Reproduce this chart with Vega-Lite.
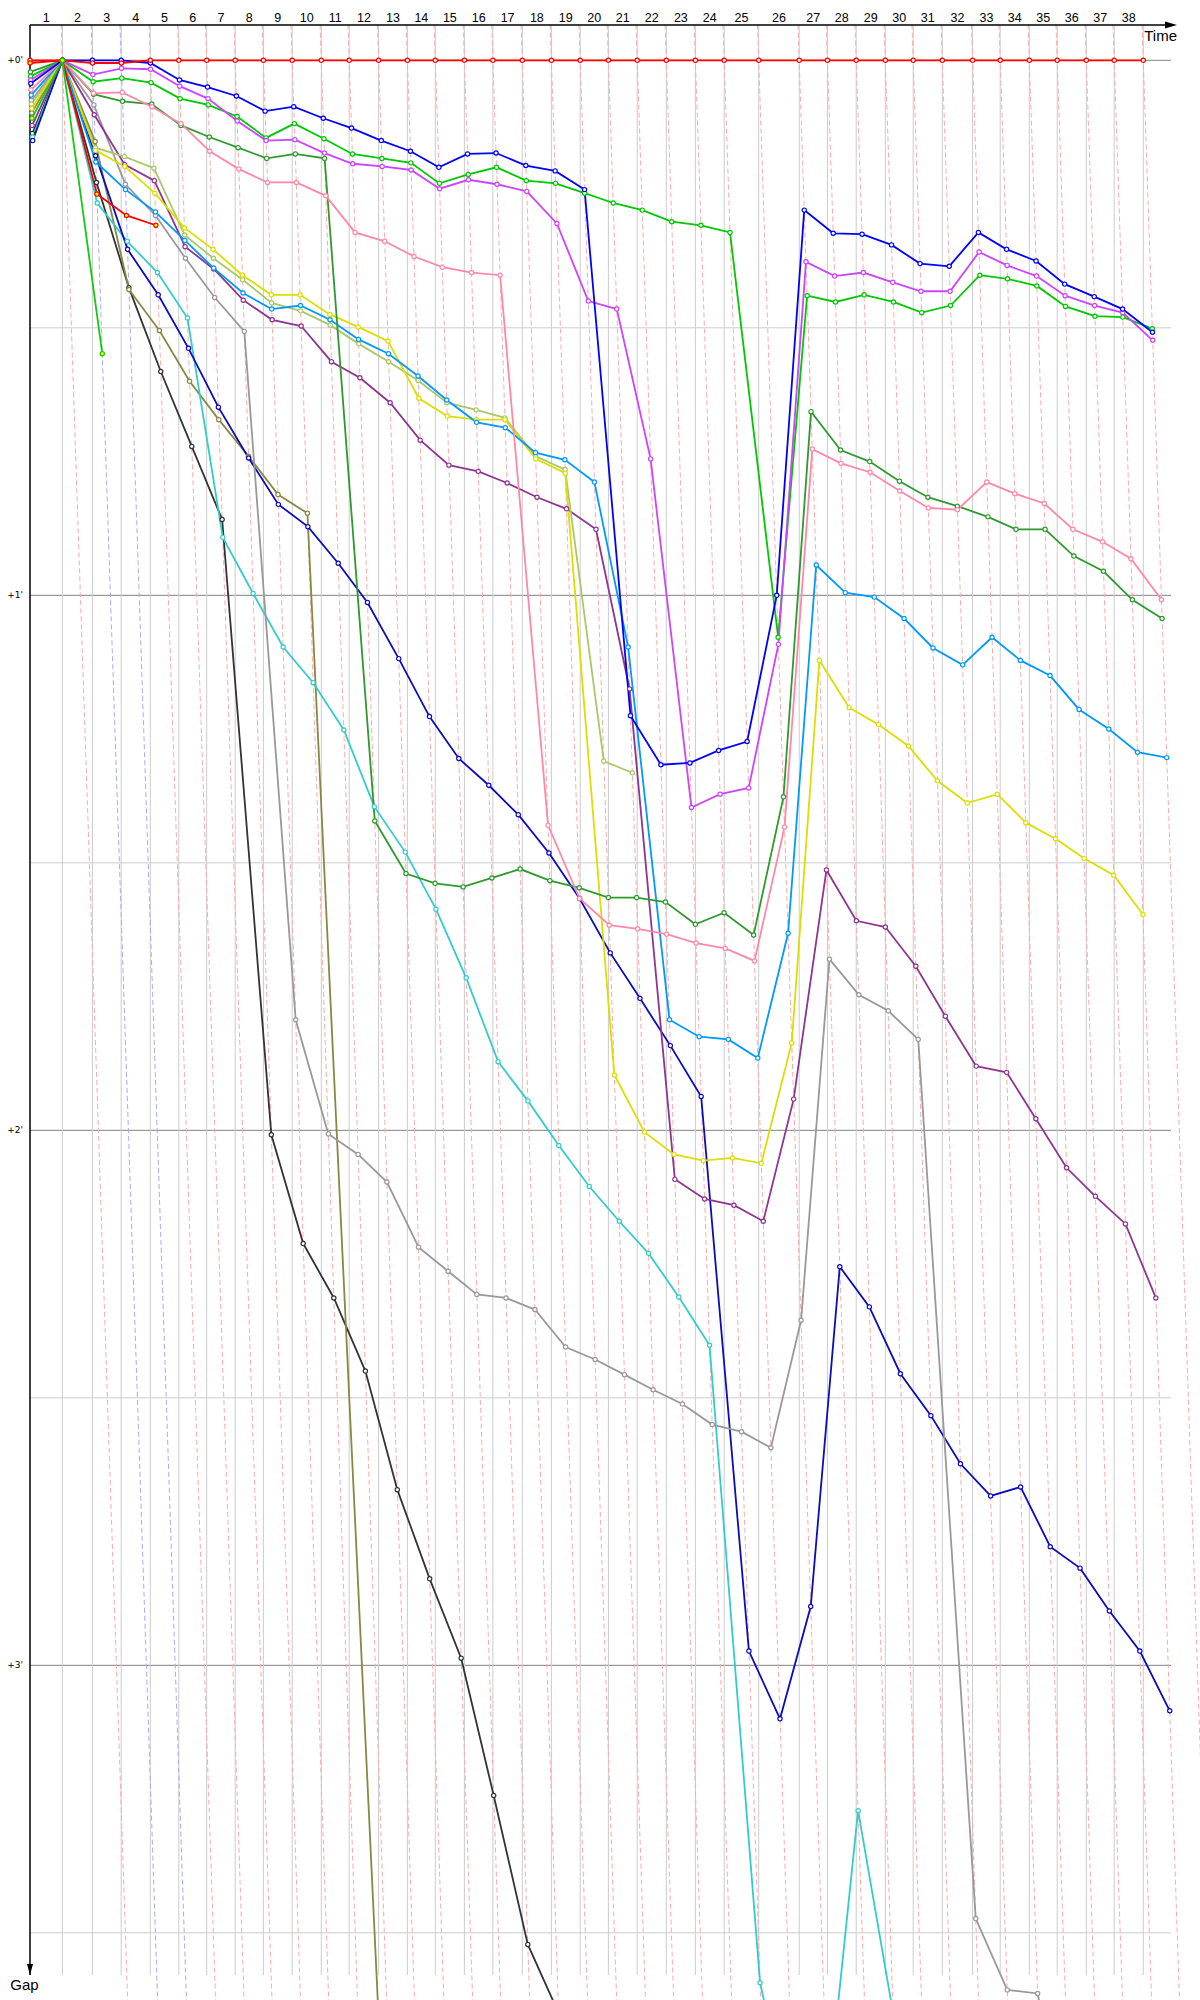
{
"$schema": "https://vega.github.io/schema/vega-lite/v6.json",
"width": 1141, "height": 1950,
"autosize": {"type": "none"},
"padding": {"left": 30, "top": 25, "right": 29, "bottom": 25},
"background": "white",
"config": {"view": {"stroke": null}},
"datasets": {
"laps": [
{"l":1,"t":108,"m":54,"ta":104,"tb":330,"lead":"A"},{"l":2,"t":208,"m":158,"ta":204,"tb":430,"lead":"B"},{"l":3,"t":304,"m":256,"ta":300,"tb":526,"lead":"B"},{"l":4,"t":401,"m":352.5,"ta":397,"tb":623,"lead":"A"},{"l":5,"t":496,"m":448.5,"ta":492,"tb":718,"lead":"A"},{"l":6,"t":589,"m":542.5,"ta":585,"tb":811,"lead":"A"},{"l":7,"t":684,"m":636.5,"ta":680,"tb":906,"lead":"A"},{"l":8,"t":778,"m":731,"ta":774,"tb":1000,"lead":"A"},{"l":9,"t":874,"m":826,"ta":870,"tb":1096,"lead":"A"},{"l":10,"t":971,"m":922.5,"ta":967,"tb":1193,"lead":"A"},{"l":11,"t":1064,"m":1017.5,"ta":1060,"tb":1286,"lead":"A"},{"l":12,"t":1162,"m":1113,"ta":1158,"tb":1384,"lead":"A"},{"l":13,"t":1258,"m":1210,"ta":1254,"tb":1480,"lead":"A"},{"l":14,"t":1351,"m":1304.5,"ta":1347,"tb":1573,"lead":"A"},{"l":15,"t":1448,"m":1399.5,"ta":1444,"tb":1670,"lead":"A"},{"l":16,"t":1543,"m":1495.5,"ta":1539,"tb":1765,"lead":"A"},{"l":17,"t":1641,"m":1592,"ta":1637,"tb":1863,"lead":"A"},{"l":18,"t":1738,"m":1689.5,"ta":1734,"tb":1960,"lead":"A"},{"l":19,"t":1834,"m":1786,"ta":1830,"tb":2056,"lead":"A"},{"l":20,"t":1928,"m":1881,"ta":1924,"tb":2150,"lead":"A"},{"l":21,"t":2024,"m":1976,"ta":2020,"tb":2246,"lead":"A"},{"l":22,"t":2121,"m":2072.5,"ta":2117,"tb":2343,"lead":"A"},{"l":23,"t":2218,"m":2169.5,"ta":2214,"tb":2440,"lead":"A"},{"l":24,"t":2314,"m":2266,"ta":2310,"tb":2536,"lead":"A"},{"l":25,"t":2429,"m":2371.5,"ta":2425,"tb":2651,"lead":"A"},{"l":26,"t":2564,"m":2496.5,"ta":2560,"tb":2786,"lead":"A"},{"l":27,"t":2658,"m":2611,"ta":2654,"tb":2880,"lead":"A"},{"l":28,"t":2754,"m":2706,"ta":2750,"tb":2976,"lead":"A"},{"l":29,"t":2851,"m":2802.5,"ta":2847,"tb":3073,"lead":"A"},{"l":30,"t":2944,"m":2897.5,"ta":2940,"tb":3166,"lead":"A"},{"l":31,"t":3041,"m":2992.5,"ta":3037,"tb":3263,"lead":"A"},{"l":32,"t":3142,"m":3091.5,"ta":3138,"tb":3364,"lead":"A"},{"l":33,"t":3234,"m":3188,"ta":3230,"tb":3456,"lead":"A"},{"l":34,"t":3331,"m":3282.5,"ta":3327,"tb":3553,"lead":"A"},{"l":35,"t":3424,"m":3377.5,"ta":3420,"tb":3646,"lead":"A"},{"l":36,"t":3521,"m":3472.5,"ta":3517,"tb":3743,"lead":"A"},{"l":37,"t":3614,"m":3567.5,"ta":3610,"tb":3836,"lead":"A"},{"l":38,"t":3711,"m":3662.5,"ta":3707,"tb":3933,"lead":"A"}
],
"gridMajor": [{"g":0,"lab":"+0'"},{"g":60,"lab":"+1'"},{"g":120,"lab":"+2'"},{"g":180,"lab":"+3'"}],
"gridMinor": [{"g":30},{"g":90},{"g":150},{"g":210}],
"frame": [{"t0":0,"t1":3803.3,"g0":-3.96,"g1":214.73}],
"arrows": [{"a":"x","t":3803.3,"g":-3.96},{"a":"y","t":0,"g":214.73}],
"race": [
{"d":"O","l":0,"t":8.2,"g":8.2},{"d":"O","l":1,"t":108,"g":0},{"d":"O","l":2,"t":221.7,"g":13.7},{"d":"O","l":3,"t":329.5,"g":25.5},{"d":"O","l":4,"t":435.9,"g":34.9},{"d":"O","l":5,"t":539.3,"g":43.3},{"d":"O","l":6,"t":640.5,"g":51.5},{"d":"O","l":7,"t":804.5,"g":120.5},{"d":"O","l":8,"t":910.7,"g":132.7},{"d":"O","l":9,"t":1012.8,"g":138.8},{"d":"O","l":10,"t":1118,"g":147},{"d":"O","l":11,"t":1224.3,"g":160.3},{"d":"O","l":12,"t":1332.3,"g":170.3},{"d":"O","l":13,"t":1437.2,"g":179.2},{"d":"O","l":14,"t":1545.6,"g":194.6},{"d":"O","l":15,"t":1659.3,"g":211.3},{"d":"O","l":16,"t":1762,"g":219},
{"d":"P","l":0,"t":5.9,"g":5.9},{"d":"P","l":1,"t":108,"g":0},{"d":"P","l":2,"t":217.1,"g":9.1},{"d":"P","l":3,"t":329.7,"g":25.7},{"d":"P","l":4,"t":431.3,"g":30.3},{"d":"P","l":5,"t":532,"g":36},{"d":"P","l":6,"t":629.3,"g":40.3},{"d":"P","l":7,"t":728.4,"g":44.4},{"d":"P","l":8,"t":826.7,"g":48.7},{"d":"P","l":9,"t":924.8,"g":50.8},{"d":"P","l":10,"t":1261,"g":290},
{"d":"N","l":0,"t":8.6,"g":8.6},{"d":"N","l":1,"t":108,"g":0},{"d":"N","l":2,"t":224,"g":16},{"d":"N","l":3,"t":324.3,"g":20.3},{"d":"N","l":4,"t":424.8,"g":23.8},{"d":"N","l":5,"t":524.9,"g":28.9},{"d":"N","l":6,"t":642.5,"g":53.5},{"d":"N","l":7,"t":743.8,"g":59.8},{"d":"N","l":8,"t":843.8,"g":65.8},{"d":"N","l":9,"t":943.8,"g":69.8},{"d":"N","l":10,"t":1046.1,"g":75.1},{"d":"N","l":11,"t":1147.7,"g":83.7},{"d":"N","l":12,"t":1250.8,"g":88.8},{"d":"N","l":13,"t":1353.2,"g":95.2},{"d":"N","l":14,"t":1453.9,"g":102.9},{"d":"N","l":15,"t":1560.3,"g":112.3},{"d":"N","l":16,"t":1659.7,"g":116.7},{"d":"N","l":17,"t":1762.7,"g":121.7},{"d":"N","l":18,"t":1864.3,"g":126.3},{"d":"N","l":19,"t":1964.2,"g":130.2},{"d":"N","l":20,"t":2061.8,"g":133.8},{"d":"N","l":21,"t":2162.7,"g":138.7},{"d":"N","l":22,"t":2265.1,"g":144.1},{"d":"N","l":23,"t":2433.6,"g":215.6},{"d":"N","l":24,"t":2547,"g":233},{"d":"N","l":25,"t":2658.4,"g":229.4},{"d":"N","l":26,"t":2760.3,"g":196.3},{"d":"N","l":27,"t":2877,"g":219},
{"d":"M","l":0,"t":9,"g":9},{"d":"M","l":1,"t":108,"g":0},{"d":"M","l":2,"t":218.7,"g":10.7},{"d":"M","l":3,"t":325.2,"g":21.2},{"d":"M","l":4,"t":427.3,"g":26.3},{"d":"M","l":5,"t":528.3,"g":32.3},{"d":"M","l":6,"t":627.9,"g":38.9},{"d":"M","l":7,"t":728.6,"g":44.6},{"d":"M","l":8,"t":827.8,"g":49.8},{"d":"M","l":9,"t":926.3,"g":52.3},{"d":"M","l":10,"t":1027.4,"g":56.4},{"d":"M","l":11,"t":1124.8,"g":60.8},{"d":"M","l":12,"t":1229.1,"g":67.1},{"d":"M","l":13,"t":1331.6,"g":73.6},{"d":"M","l":14,"t":1429.3,"g":78.3},{"d":"M","l":15,"t":1529.3,"g":81.3},{"d":"M","l":16,"t":1627.6,"g":84.6},{"d":"M","l":17,"t":1729.9,"g":88.9},{"d":"M","l":18,"t":1832,"g":94},{"d":"M","l":19,"t":1934.1,"g":100.1},{"d":"M","l":20,"t":2033.2,"g":105.2},{"d":"M","l":21,"t":2134.5,"g":110.5},{"d":"M","l":22,"t":2237.2,"g":116.2},{"d":"M","l":23,"t":2396.4,"g":178.4},{"d":"M","l":24,"t":2500,"g":186},{"d":"M","l":25,"t":2602.4,"g":173.4},{"d":"M","l":26,"t":2699.3,"g":135.3},{"d":"M","l":27,"t":2797.8,"g":139.8},{"d":"M","l":28,"t":2901.3,"g":147.3},{"d":"M","l":29,"t":3003,"g":152},{"d":"M","l":30,"t":3101.4,"g":157.4},{"d":"M","l":31,"t":3202,"g":161},{"d":"M","l":32,"t":3302,"g":160},{"d":"M","l":33,"t":3400.7,"g":166.7},{"d":"M","l":34,"t":3500.1,"g":169.1},{"d":"M","l":35,"t":3597.9,"g":173.9},{"d":"M","l":36,"t":3699.4,"g":178.4},{"d":"M","l":37,"t":3799.1,"g":185.1},
{"d":"K","l":0,"t":4.5,"g":4.5},{"d":"K","l":1,"t":108,"g":0},{"d":"K","l":2,"t":213,"g":5},{"d":"K","l":3,"t":317.9,"g":13.9},{"d":"K","l":4,"t":418.4,"g":17.4},{"d":"K","l":5,"t":518.2,"g":22.2},{"d":"K","l":6,"t":615.6,"g":26.6},{"d":"K","l":7,"t":714.4,"g":30.4},{"d":"K","l":8,"t":885.6,"g":107.6},{"d":"K","l":9,"t":994.4,"g":120.4},{"d":"K","l":10,"t":1093.7,"g":122.7},{"d":"K","l":11,"t":1189.8,"g":125.8},{"d":"K","l":12,"t":1295.1,"g":133.1},{"d":"K","l":13,"t":1393.8,"g":135.8},{"d":"K","l":14,"t":1489.4,"g":138.4},{"d":"K","l":15,"t":1586.8,"g":138.8},{"d":"K","l":16,"t":1683.1,"g":140.1},{"d":"K","l":17,"t":1785.3,"g":144.3},{"d":"K","l":18,"t":1883.7,"g":145.7},{"d":"K","l":19,"t":1981.4,"g":147.4},{"d":"K","l":20,"t":2077.1,"g":149.1},{"d":"K","l":21,"t":2174.7,"g":150.7},{"d":"K","l":22,"t":2274,"g":153},{"d":"K","l":23,"t":2371.8,"g":153.8},{"d":"K","l":24,"t":2469.6,"g":155.6},{"d":"K","l":25,"t":2570.3,"g":141.3},{"d":"K","l":26,"t":2664.8,"g":100.8},{"d":"K","l":27,"t":2762.8,"g":104.8},{"d":"K","l":28,"t":2860.6,"g":106.6},{"d":"K","l":29,"t":2960.8,"g":109.8},{"d":"K","l":30,"t":3152.4,"g":208.4},{"d":"K","l":31,"t":3257.4,"g":216.4},{"d":"K","l":32,"t":3358.8,"g":216.8},{"d":"K","l":33,"t":3469,"g":235},
{"d":"J","l":0,"t":7.3,"g":7.3},{"d":"J","l":1,"t":108,"g":0},{"d":"J","l":2,"t":214.1,"g":6.1},{"d":"J","l":3,"t":315.7,"g":11.7},{"d":"J","l":4,"t":414.5,"g":13.5},{"d":"J","l":5,"t":516.9,"g":20.9},{"d":"J","l":6,"t":612.4,"g":23.4},{"d":"J","l":7,"t":710.9,"g":26.9},{"d":"J","l":8,"t":807.1,"g":29.1},{"d":"J","l":9,"t":903.8,"g":29.8},{"d":"J","l":10,"t":1004.8,"g":33.8},{"d":"J","l":11,"t":1099.6,"g":35.6},{"d":"J","l":12,"t":1200.4,"g":38.4},{"d":"J","l":13,"t":1300.6,"g":42.6},{"d":"J","l":14,"t":1396.4,"g":45.4},{"d":"J","l":15,"t":1494.1,"g":46.1},{"d":"J","l":16,"t":1590.4,"g":47.4},{"d":"J","l":17,"t":1690,"g":49},{"d":"J","l":18,"t":1788.3,"g":50.3},{"d":"J","l":19,"t":1886.6,"g":52.6},{"d":"J","l":20,"t":1998.5,"g":70.5},{"d":"J","l":21,"t":2149.5,"g":125.5},{"d":"J","l":22,"t":2248.7,"g":127.7},{"d":"J","l":23,"t":2346.4,"g":128.4},{"d":"J","l":24,"t":2444.2,"g":130.2},{"d":"J","l":25,"t":2545.5,"g":116.5},{"d":"J","l":26,"t":2654.8,"g":90.8},{"d":"J","l":27,"t":2754.5,"g":96.5},{"d":"J","l":28,"t":2851.2,"g":97.2},{"d":"J","l":29,"t":2952.6,"g":101.6},{"d":"J","l":30,"t":3051.2,"g":107.2},{"d":"J","l":31,"t":3153.8,"g":112.8},{"d":"J","l":32,"t":3255.5,"g":113.5},{"d":"J","l":33,"t":3352.7,"g":118.7},{"d":"J","l":34,"t":3455.2,"g":124.2},{"d":"J","l":35,"t":3551.4,"g":127.4},{"d":"J","l":36,"t":3651.5,"g":130.5},{"d":"J","l":37,"t":3752.8,"g":138.8},
{"d":"I","l":0,"t":4.9,"g":4.9},{"d":"I","l":1,"t":108,"g":0},{"d":"I","l":2,"t":217.8,"g":9.8},{"d":"I","l":3,"t":314.8,"g":10.8},{"d":"I","l":4,"t":413.1,"g":12.1},{"d":"I","l":5,"t":515.6,"g":19.6},{"d":"I","l":6,"t":611.2,"g":22.2},{"d":"I","l":7,"t":708.6,"g":24.6},{"d":"I","l":8,"t":805.2,"g":27.2},{"d":"I","l":9,"t":902.1,"g":28.1},{"d":"I","l":10,"t":1000.7,"g":29.7},{"d":"I","l":11,"t":1095.8,"g":31.8},{"d":"I","l":12,"t":1195.8,"g":33.8},{"d":"I","l":13,"t":1293.9,"g":35.9},{"d":"I","l":14,"t":1389.4,"g":38.4},{"d":"I","l":15,"t":1487.2,"g":39.2},{"d":"I","l":16,"t":1583.1,"g":40.1},{"d":"I","l":17,"t":1685.4,"g":44.4},{"d":"I","l":18,"t":1783.9,"g":45.9},{"d":"I","l":19,"t":1912.6,"g":78.6},{"d":"I","l":20,"t":2007.9,"g":79.9},
{"d":"H","l":0,"t":5.4,"g":5.4},{"d":"H","l":1,"t":108,"g":0},{"d":"H","l":2,"t":218.1,"g":10.1},{"d":"H","l":3,"t":315.9,"g":11.9},{"d":"H","l":4,"t":415.9,"g":14.9},{"d":"H","l":5,"t":514.8,"g":18.8},{"d":"H","l":6,"t":610.2,"g":21.2},{"d":"H","l":7,"t":708.1,"g":24.1},{"d":"H","l":8,"t":804.3,"g":26.3},{"d":"H","l":9,"t":900.3,"g":26.3},{"d":"H","l":10,"t":999.5,"g":28.5},{"d":"H","l":11,"t":1093.9,"g":29.9},{"d":"H","l":12,"t":1193.5,"g":31.5},{"d":"H","l":13,"t":1295.9,"g":37.9},{"d":"H","l":14,"t":1390.9,"g":39.9},{"d":"H","l":15,"t":1488.3,"g":40.3},{"d":"H","l":16,"t":1583.3,"g":40.3},{"d":"H","l":17,"t":1685.7,"g":44.7},{"d":"H","l":18,"t":1784.3,"g":46.3},{"d":"H","l":19,"t":1947.8,"g":113.8},{"d":"H","l":20,"t":2048.2,"g":120.2},{"d":"H","l":21,"t":2146.7,"g":122.7},{"d":"H","l":22,"t":2244.4,"g":123.4},{"d":"H","l":23,"t":2341.1,"g":123.1},{"d":"H","l":24,"t":2437.7,"g":123.7},{"d":"H","l":25,"t":2539.2,"g":110.2},{"d":"H","l":26,"t":2631.3,"g":67.3},{"d":"H","l":27,"t":2730.6,"g":72.6},{"d":"H","l":28,"t":2828.5,"g":74.5},{"d":"H","l":29,"t":2927.9,"g":76.9},{"d":"H","l":30,"t":3024.8,"g":80.8},{"d":"H","l":31,"t":3124.3,"g":83.3},{"d":"H","l":32,"t":3224.3,"g":82.3},{"d":"H","l":33,"t":3319.5,"g":85.5},{"d":"H","l":34,"t":3418.3,"g":87.3},{"d":"H","l":35,"t":3513.5,"g":89.5},{"d":"H","l":36,"t":3612.4,"g":91.4},{"d":"H","l":37,"t":3709.8,"g":95.8},
{"d":"G","l":0,"t":3.9,"g":3.9},{"d":"G","l":1,"t":108,"g":0},{"d":"G","l":2,"t":219.4,"g":11.4},{"d":"G","l":3,"t":318.5,"g":14.5},{"d":"G","l":4,"t":418,"g":17},{"d":"G","l":5,"t":516.2,"g":20.2},{"d":"G","l":6,"t":612.3,"g":23.3},{"d":"G","l":7,"t":710.1,"g":26.1},{"d":"G","l":8,"t":805.9,"g":27.9},{"d":"G","l":9,"t":901.5,"g":27.5},{"d":"G","l":10,"t":1000.1,"g":29.1},{"d":"G","l":11,"t":1095.3,"g":31.3},{"d":"G","l":12,"t":1194.9,"g":32.9},{"d":"G","l":13,"t":1293.4,"g":35.4},{"d":"G","l":14,"t":1389.1,"g":38.1},{"d":"G","l":15,"t":1488.6,"g":40.6},{"d":"G","l":16,"t":1584.2,"g":41.2},{"d":"G","l":17,"t":1685,"g":44},{"d":"G","l":18,"t":1782.8,"g":44.8},{"d":"G","l":19,"t":1881.3,"g":47.3},{"d":"G","l":20,"t":1993.8,"g":65.8},{"d":"G","l":21,"t":2131.6,"g":107.6},{"d":"G","l":22,"t":2230.5,"g":109.5},{"d":"G","l":23,"t":2327.8,"g":109.8},{"d":"G","l":24,"t":2425.9,"g":111.9},{"d":"G","l":25,"t":2526.9,"g":97.9},{"d":"G","l":26,"t":2620.6,"g":56.6},{"d":"G","l":27,"t":2717.7,"g":59.7},{"d":"G","l":28,"t":2814.2,"g":60.2},{"d":"G","l":29,"t":2913.6,"g":62.6},{"d":"G","l":30,"t":3009.9,"g":65.9},{"d":"G","l":31,"t":3108.8,"g":67.8},{"d":"G","l":32,"t":3206.7,"g":64.7},{"d":"G","l":33,"t":3301.3,"g":67.3},{"d":"G","l":34,"t":3400,"g":69},{"d":"G","l":35,"t":3496.8,"g":72.8},{"d":"G","l":36,"t":3596,"g":75},{"d":"G","l":37,"t":3691.6,"g":77.6},{"d":"G","l":38,"t":3789.2,"g":78.2},
{"d":"F","l":0,"t":1.3,"g":1.3},{"d":"F","l":1,"t":108,"g":0},{"d":"F","l":2,"t":211.8,"g":3.8},{"d":"F","l":3,"t":308.6,"g":4.6},{"d":"F","l":4,"t":405.9,"g":4.9},{"d":"F","l":5,"t":503.3,"g":7.3},{"d":"F","l":6,"t":597.6,"g":8.6},{"d":"F","l":7,"t":693.8,"g":9.8},{"d":"F","l":8,"t":789,"g":11},{"d":"F","l":9,"t":884.5,"g":10.5},{"d":"F","l":10,"t":982,"g":11},{"d":"F","l":11,"t":1149.3,"g":85.3},{"d":"F","l":12,"t":1253.2,"g":91.2},{"d":"F","l":13,"t":1350.3,"g":92.3},{"d":"F","l":14,"t":1443.7,"g":92.7},{"d":"F","l":15,"t":1539.7,"g":91.7},{"d":"F","l":16,"t":1633.7,"g":90.7},{"d":"F","l":17,"t":1733,"g":92},{"d":"F","l":18,"t":1830.8,"g":92.8},{"d":"F","l":19,"t":1927.9,"g":93.9},{"d":"F","l":20,"t":2021.9,"g":93.9},{"d":"F","l":21,"t":2118.4,"g":94.4},{"d":"F","l":22,"t":2217.9,"g":96.9},{"d":"F","l":23,"t":2313.6,"g":95.6},{"d":"F","l":24,"t":2412.1,"g":98.1},{"d":"F","l":25,"t":2511.6,"g":82.6},{"d":"F","l":26,"t":2603.4,"g":39.4},{"d":"F","l":27,"t":2701.7,"g":43.7},{"d":"F","l":28,"t":2799,"g":45},{"d":"F","l":29,"t":2898.2,"g":47.2},{"d":"F","l":30,"t":2993,"g":49},{"d":"F","l":31,"t":3091,"g":50},{"d":"F","l":32,"t":3193.2,"g":51.2},{"d":"F","l":33,"t":3286.6,"g":52.6},{"d":"F","l":34,"t":3383.6,"g":52.6},{"d":"F","l":35,"t":3479.6,"g":55.6},{"d":"F","l":36,"t":3578.3,"g":57.3},{"d":"F","l":37,"t":3674.5,"g":60.5},{"d":"F","l":38,"t":3773.6,"g":62.6},
{"d":"E","l":0,"t":3.3,"g":3.3},{"d":"E","l":1,"t":108,"g":0},{"d":"E","l":2,"t":211.7,"g":3.7},{"d":"E","l":3,"t":307.6,"g":3.6},{"d":"E","l":4,"t":406.2,"g":5.2},{"d":"E","l":5,"t":503.1,"g":7.1},{"d":"E","l":6,"t":599.2,"g":10.2},{"d":"E","l":7,"t":696.2,"g":12.2},{"d":"E","l":8,"t":791.7,"g":13.7},{"d":"E","l":9,"t":887.7,"g":13.7},{"d":"E","l":10,"t":986.2,"g":15.2},{"d":"E","l":11,"t":1083.3,"g":19.3},{"d":"E","l":12,"t":1182.3,"g":20.3},{"d":"E","l":13,"t":1280,"g":22},{"d":"E","l":14,"t":1374.2,"g":23.2},{"d":"E","l":15,"t":1471.8,"g":23.8},{"d":"E","l":16,"t":1567.1,"g":24.1},{"d":"E","l":17,"t":1726.8,"g":85.8},{"d":"E","l":18,"t":1832,"g":94},{"d":"E","l":19,"t":1931,"g":97},{"d":"E","l":20,"t":2025.4,"g":97.4},{"d":"E","l":21,"t":2122,"g":98},{"d":"E","l":22,"t":2220,"g":99},{"d":"E","l":23,"t":2317.6,"g":99.6},{"d":"E","l":24,"t":2415,"g":101},{"d":"E","l":25,"t":2515,"g":86},{"d":"E","l":26,"t":2607.6,"g":43.6},{"d":"E","l":27,"t":2703.2,"g":45.2},{"d":"E","l":28,"t":2800.2,"g":46.2},{"d":"E","l":29,"t":2899.3,"g":48.3},{"d":"E","l":30,"t":2994.2,"g":50.2},{"d":"E","l":31,"t":3091.4,"g":50.4},{"d":"E","l":32,"t":3189.3,"g":47.3},{"d":"E","l":33,"t":3282.6,"g":48.6},{"d":"E","l":34,"t":3380.7,"g":49.7},{"d":"E","l":35,"t":3476.6,"g":52.6},{"d":"E","l":36,"t":3575,"g":54},{"d":"E","l":37,"t":3669.9,"g":55.9},{"d":"E","l":38,"t":3771.5,"g":60.5},
{"d":"D","l":0,"t":1.8,"g":1.8},{"d":"D","l":1,"t":108,"g":0},{"d":"D","l":2,"t":210.4,"g":2.4},{"d":"D","l":3,"t":306,"g":2},{"d":"D","l":4,"t":403.5,"g":2.5},{"d":"D","l":5,"t":500.3,"g":4.3},{"d":"D","l":6,"t":594,"g":5},{"d":"D","l":7,"t":690.3,"g":6.3},{"d":"D","l":8,"t":786.7,"g":8.7},{"d":"D","l":9,"t":881.1,"g":7.1},{"d":"D","l":10,"t":979.8,"g":8.8},{"d":"D","l":11,"t":1074.5,"g":10.5},{"d":"D","l":12,"t":1173,"g":11},{"d":"D","l":13,"t":1269.5,"g":11.5},{"d":"D","l":14,"t":1364.8,"g":13.8},{"d":"D","l":15,"t":1460.8,"g":12.8},{"d":"D","l":16,"t":1555,"g":12},{"d":"D","l":17,"t":1654.5,"g":13.5},{"d":"D","l":18,"t":1751.8,"g":13.8},{"d":"D","l":19,"t":1848.9,"g":14.9},{"d":"D","l":20,"t":1944,"g":16},{"d":"D","l":21,"t":2040.8,"g":16.8},{"d":"D","l":22,"t":2139.1,"g":18.1},{"d":"D","l":23,"t":2236.5,"g":18.5},{"d":"D","l":24,"t":2333.3,"g":19.3},{"d":"D","l":25,"t":2493.7,"g":64.7},{"d":"D","l":26,"t":2590.4,"g":26.4},{"d":"D","l":27,"t":2685.1,"g":27.1},{"d":"D","l":28,"t":2780.3,"g":26.3},{"d":"D","l":29,"t":2878.1,"g":27.1},{"d":"D","l":30,"t":2972.3,"g":28.3},{"d":"D","l":31,"t":3068.5,"g":27.5},{"d":"D","l":32,"t":3166.1,"g":24.1},{"d":"D","l":33,"t":3258.5,"g":24.5},{"d":"D","l":34,"t":3356.3,"g":25.3},{"d":"D","l":35,"t":3451.6,"g":27.6},{"d":"D","l":36,"t":3549.7,"g":28.7},{"d":"D","l":37,"t":3642.8,"g":28.8},{"d":"D","l":38,"t":3741.1,"g":30.1},
{"d":"C","l":0,"t":2.2,"g":2.2},{"d":"C","l":1,"t":108,"g":0},{"d":"C","l":2,"t":209.6,"g":1.6},{"d":"C","l":3,"t":304.9,"g":0.9},{"d":"C","l":4,"t":402,"g":1},{"d":"C","l":5,"t":498.9,"g":2.9},{"d":"C","l":6,"t":593.3,"g":4.3},{"d":"C","l":7,"t":690.8,"g":6.8},{"d":"C","l":8,"t":787,"g":9},{"d":"C","l":9,"t":882.9,"g":8.9},{"d":"C","l":10,"t":981.4,"g":10.4},{"d":"C","l":11,"t":1075.6,"g":11.6},{"d":"C","l":12,"t":1173.9,"g":11.9},{"d":"C","l":13,"t":1270.3,"g":12.3},{"d":"C","l":14,"t":1365.4,"g":14.4},{"d":"C","l":15,"t":1461.4,"g":13.4},{"d":"C","l":16,"t":1556.9,"g":13.9},{"d":"C","l":17,"t":1655.7,"g":14.7},{"d":"C","l":18,"t":1756.3,"g":18.3},{"d":"C","l":19,"t":1861,"g":27},{"d":"C","l":20,"t":1955.9,"g":27.9},{"d":"C","l":21,"t":2068.7,"g":44.7},{"d":"C","l":22,"t":2204.8,"g":83.8},{"d":"C","l":23,"t":2300.3,"g":82.3},{"d":"C","l":24,"t":2395.6,"g":81.6},{"d":"C","l":25,"t":2494.5,"g":65.5},{"d":"C","l":26,"t":2586.6,"g":22.6},{"d":"C","l":27,"t":2682.2,"g":24.2},{"d":"C","l":28,"t":2777.8,"g":23.8},{"d":"C","l":29,"t":2875.9,"g":24.9},{"d":"C","l":30,"t":2969.9,"g":25.9},{"d":"C","l":31,"t":3066.9,"g":25.9},{"d":"C","l":32,"t":3163.5,"g":21.5},{"d":"C","l":33,"t":3257,"g":23},{"d":"C","l":34,"t":3355.2,"g":24.2},{"d":"C","l":35,"t":3450.4,"g":26.4},{"d":"C","l":36,"t":3548.5,"g":27.5},{"d":"C","l":37,"t":3642.3,"g":28.3},{"d":"C","l":38,"t":3742.4,"g":31.4},
{"d":"B","l":0,"t":2.6,"g":2.6},{"d":"B","l":1,"t":108,"g":0},{"d":"B","l":2,"t":208,"g":0},{"d":"B","l":3,"t":304,"g":0},{"d":"B","l":4,"t":401.3,"g":0.3},{"d":"B","l":5,"t":498.2,"g":2.2},{"d":"B","l":6,"t":592,"g":3},{"d":"B","l":7,"t":688,"g":4},{"d":"B","l":8,"t":783.7,"g":5.7},{"d":"B","l":9,"t":879.2,"g":5.2},{"d":"B","l":10,"t":977.5,"g":6.5},{"d":"B","l":11,"t":1071.6,"g":7.6},{"d":"B","l":12,"t":1171,"g":9},{"d":"B","l":13,"t":1268.2,"g":10.2},{"d":"B","l":14,"t":1363,"g":12},{"d":"B","l":15,"t":1458.5,"g":10.5},{"d":"B","l":16,"t":1553.4,"g":10.4},{"d":"B","l":17,"t":1652.8,"g":11.8},{"d":"B","l":18,"t":1750.4,"g":12.4},{"d":"B","l":19,"t":1848.5,"g":14.5},{"d":"B","l":20,"t":2001.5,"g":73.5},{"d":"B","l":21,"t":2103,"g":79},{"d":"B","l":22,"t":2199.8,"g":78.8},{"d":"B","l":23,"t":2295.4,"g":77.4},{"d":"B","l":24,"t":2390.4,"g":76.4},{"d":"B","l":25,"t":2489,"g":60},{"d":"B","l":26,"t":2580.8,"g":16.8},{"d":"B","l":27,"t":2677.4,"g":19.4},{"d":"B","l":28,"t":2773.5,"g":19.5},{"d":"B","l":29,"t":2871.7,"g":20.7},{"d":"B","l":30,"t":2966.8,"g":22.8},{"d":"B","l":31,"t":3064.1,"g":23.1},{"d":"B","l":32,"t":3161.3,"g":19.3},{"d":"B","l":33,"t":3255.2,"g":21.2},{"d":"B","l":34,"t":3353.5,"g":22.5},{"d":"B","l":35,"t":3449.1,"g":25.1},{"d":"B","l":36,"t":3547.5,"g":26.5},{"d":"B","l":37,"t":3641.9,"g":27.9},{"d":"B","l":38,"t":3741.5,"g":30.5},
{"d":"A","l":0,"t":0,"g":0},{"d":"A","l":1,"t":108,"g":0},{"d":"A","l":2,"t":208.3,"g":0.3},{"d":"A","l":3,"t":304.3,"g":0.3},{"d":"A","l":4,"t":401,"g":0},{"d":"A","l":5,"t":496,"g":0},{"d":"A","l":6,"t":589,"g":0},{"d":"A","l":7,"t":684,"g":0},{"d":"A","l":8,"t":778,"g":0},{"d":"A","l":9,"t":874,"g":0},{"d":"A","l":10,"t":971,"g":0},{"d":"A","l":11,"t":1064,"g":0},{"d":"A","l":12,"t":1162,"g":0},{"d":"A","l":13,"t":1258,"g":0},{"d":"A","l":14,"t":1351,"g":0},{"d":"A","l":15,"t":1448,"g":0},{"d":"A","l":16,"t":1543,"g":0},{"d":"A","l":17,"t":1641,"g":0},{"d":"A","l":18,"t":1738,"g":0},{"d":"A","l":19,"t":1834,"g":0},{"d":"A","l":20,"t":1928,"g":0},{"d":"A","l":21,"t":2024,"g":0},{"d":"A","l":22,"t":2121,"g":0},{"d":"A","l":23,"t":2218,"g":0},{"d":"A","l":24,"t":2314,"g":0},{"d":"A","l":25,"t":2429,"g":0},{"d":"A","l":26,"t":2564,"g":0},{"d":"A","l":27,"t":2658,"g":0},{"d":"A","l":28,"t":2754,"g":0},{"d":"A","l":29,"t":2851,"g":0},{"d":"A","l":30,"t":2944,"g":0},{"d":"A","l":31,"t":3041,"g":0},{"d":"A","l":32,"t":3142,"g":0},{"d":"A","l":33,"t":3234,"g":0},{"d":"A","l":34,"t":3331,"g":0},{"d":"A","l":35,"t":3424,"g":0},{"d":"A","l":36,"t":3521,"g":0},{"d":"A","l":37,"t":3614,"g":0},{"d":"A","l":38,"t":3711,"g":0},
{"d":"Q","l":0,"t":0.3,"g":0.3},{"d":"Q","l":1,"t":108,"g":0},{"d":"Q","l":2,"t":223,"g":15},{"d":"Q","l":3,"t":321.4,"g":17.4},{"d":"Q","l":4,"t":419.5,"g":18.5},
{"d":"R","l":0,"t":6.5,"g":6.5},{"d":"R","l":1,"t":108,"g":0},{"d":"R","l":2,"t":240.9,"g":32.9}
]
},
"layer": [
{"data": {"name": "gridMinor"},
 "mark": {"type": "rule", "color": "#cccccc", "strokeWidth": 1},
 "encoding": {
  "y": {"field": "g", "type": "quantitative", "scale": {"domain": [-3.96, 214.73], "nice": false, "zero": false, "reverse": true}, "axis": null}
 }},
{"data": {"name": "gridMajor"},
 "mark": {"type": "rule", "color": "#808080", "strokeWidth": 1},
 "encoding": {
  "y": {"field": "g", "type": "quantitative", "scale": {"domain": [-3.96, 214.73], "nice": false, "zero": false, "reverse": true}, "axis": null}
 }},
{"data": {"name": "laps"},
 "mark": {"type": "rule", "color": "#cccccc", "strokeWidth": 1},
 "encoding": {
  "x": {"field": "t", "type": "quantitative", "scale": {"domain": [0, 3803.3], "nice": false, "zero": false}, "axis": null}
 }},
{"data": {"name": "laps"},
 "mark": {"type": "rule", "strokeWidth": 1, "strokeDash": [5, 3]},
 "encoding": {
  "x": {"field": "ta", "type": "quantitative", "scale": {"domain": [0, 3803.3], "nice": false, "zero": false}, "axis": null},
  "x2": {"field": "tb"},
  "y": {"datum": -4, "type": "quantitative", "scale": {"domain": [-3.96, 214.73], "nice": false, "zero": false, "reverse": true}, "axis": null},
  "y2": {"datum": 222},
  "color": {"field": "lead", "type": "nominal", "scale": {"domain": ["A", "B"], "range": ["#ffaaaa", "#aaaaff"]}, "legend": null}
 }},
{"data": {"name": "frame"},
 "mark": {"type": "rule", "color": "#000000", "strokeWidth": 1.5},
 "encoding": {
  "x": {"field": "t0", "type": "quantitative", "scale": {"domain": [0, 3803.3], "nice": false, "zero": false}, "axis": null},
  "x2": {"field": "t1"},
  "y": {"field": "g0", "type": "quantitative", "scale": {"domain": [-3.96, 214.73], "nice": false, "zero": false, "reverse": true}, "axis": null}
 }},
{"data": {"name": "frame"},
 "mark": {"type": "rule", "color": "#000000", "strokeWidth": 1.5},
 "encoding": {
  "x": {"field": "t0", "type": "quantitative", "scale": {"domain": [0, 3803.3], "nice": false, "zero": false}, "axis": null},
  "y": {"field": "g0", "type": "quantitative", "scale": {"domain": [-3.96, 214.73], "nice": false, "zero": false, "reverse": true}, "axis": null},
  "y2": {"field": "g1"}
 }},
{"data": {"name": "laps"},
 "mark": {"type": "text", "align": "center", "baseline": "alphabetic", "dy": -3, "font": "Liberation Sans", "fontSize": 12.5, "color": "#000000"},
 "encoding": {
  "x": {"field": "m", "type": "quantitative", "scale": {"domain": [0, 3803.3], "nice": false, "zero": false}, "axis": null},
  "y": {"datum": -3.96, "type": "quantitative", "scale": {"domain": [-3.96, 214.73], "nice": false, "zero": false, "reverse": true}, "axis": null},
  "text": {"field": "l", "type": "nominal"}
 }},
{"data": {"name": "gridMajor"},
 "mark": {"type": "text", "align": "right", "baseline": "middle", "dx": -7, "font": "DejaVu Sans", "fontSize": 9, "color": "#000000"},
 "encoding": {
  "x": {"datum": 0, "type": "quantitative", "scale": {"domain": [0, 3803.3], "nice": false, "zero": false}, "axis": null},
  "y": {"field": "g", "type": "quantitative", "scale": {"domain": [-3.96, 214.73], "nice": false, "zero": false, "reverse": true}, "axis": null},
  "text": {"field": "lab", "type": "nominal"}
 }},
{"data": {"values": [{"txt": "Time"}]},
 "mark": {"type": "text", "align": "right", "baseline": "alphabetic", "dx": 6, "dy": 16, "font": "Liberation Sans", "fontSize": 15, "color": "#000000"},
 "encoding": {
  "x": {"datum": 3803.3, "type": "quantitative", "scale": {"domain": [0, 3803.3], "nice": false, "zero": false}, "axis": null},
  "y": {"datum": -3.96, "type": "quantitative", "scale": {"domain": [-3.96, 214.73], "nice": false, "zero": false, "reverse": true}, "axis": null},
  "text": {"field": "txt", "type": "nominal"}
 }},
{"data": {"values": [{"txt": "Gap"}]},
 "mark": {"type": "text", "align": "center", "baseline": "alphabetic", "dx": -5.5, "dy": 15, "font": "Liberation Sans", "fontSize": 15, "color": "#000000"},
 "encoding": {
  "x": {"datum": 0, "type": "quantitative", "scale": {"domain": [0, 3803.3], "nice": false, "zero": false}, "axis": null},
  "y": {"datum": 214.73, "type": "quantitative", "scale": {"domain": [-3.96, 214.73], "nice": false, "zero": false, "reverse": true}, "axis": null},
  "text": {"field": "txt", "type": "nominal"}
 }},
{"data": {"name": "race"},
 "mark": {"type": "line", "strokeWidth": 1.8},
 "encoding": {
  "x": {"field": "t", "type": "quantitative", "scale": {"domain": [0, 3803.3], "nice": false, "zero": false}, "axis": null},
  "y": {"field": "g", "type": "quantitative", "scale": {"domain": [-3.96, 214.73], "nice": false, "zero": false, "reverse": true}, "axis": null},
  "stroke": {"field": "d", "type": "nominal", "scale": {"domain": ["O","P","N","M","K","J","I","H","G","F","E","D","C","B","A","Q","R"], "range": ["#333333","#888844","#33cccc","#0b0bbf","#999999","#8e3592","#aac866","#dddd00","#0099ff","#2e9a2e","#ff88aa","#00c800","#cc44ff","#0000ff","#ff0000","#ff0000","#11cc11"]}, "legend": null},
  "order": {"field": "l", "type": "quantitative"}
 }},
{"data": {"name": "race"},
 "mark": {"type": "point", "shape": "circle", "size": 18, "strokeWidth": 1.2, "opacity": 1, "filled": false},
 "encoding": {
  "x": {"field": "t", "type": "quantitative", "scale": {"domain": [0, 3803.3], "nice": false, "zero": false}, "axis": null},
  "y": {"field": "g", "type": "quantitative", "scale": {"domain": [-3.96, 214.73], "nice": false, "zero": false, "reverse": true}, "axis": null},
  "stroke": {"field": "d", "type": "nominal", "scale": {"domain": ["O","P","N","M","K","J","I","H","G","F","E","D","C","B","A","Q","R"], "range": ["#333333","#888844","#33cccc","#0b0bbf","#999999","#8e3592","#aac866","#dddd00","#0099ff","#2e9a2e","#ff88aa","#00c800","#cc44ff","#0000ff","#ff0000","#ff0000","#11cc11"]}, "legend": null},
  "fill": {"field": "d", "type": "nominal", "scale": {"domain": ["O","P","N","M","K","J","I","H","G","F","E","D","C","B","A","Q","R"], "range": ["#ffffff","#ffffff","#ffffff","#ffffff","#ffffff","#ffffff","#ffffff","#ffffff","#ffffff","#ffffff","#ffffff","#ffffff","#ffffff","#ffffff","#ffffff","#ffff00","#ffff00"]}, "legend": null}
 }},
{"data": {"name": "arrows"},
 "mark": {"type": "point", "size": 400, "filled": true, "opacity": 1, "color": "#000000", "strokeWidth": 0},
 "encoding": {
  "x": {"field": "t", "type": "quantitative", "scale": {"domain": [0, 3803.3], "nice": false, "zero": false}, "axis": null},
  "y": {"field": "g", "type": "quantitative", "scale": {"domain": [-3.96, 214.73], "nice": false, "zero": false, "reverse": true}, "axis": null},
  "shape": {"field": "a", "type": "nominal", "scale": {"domain": ["x", "y"], "range": ["M-0.6,-0.35L-0.6,0.35L0.6,0Z", "M-0.3,-1.1L0.3,-1.1L0,0Z"]}, "legend": null}
 }}
]
}
